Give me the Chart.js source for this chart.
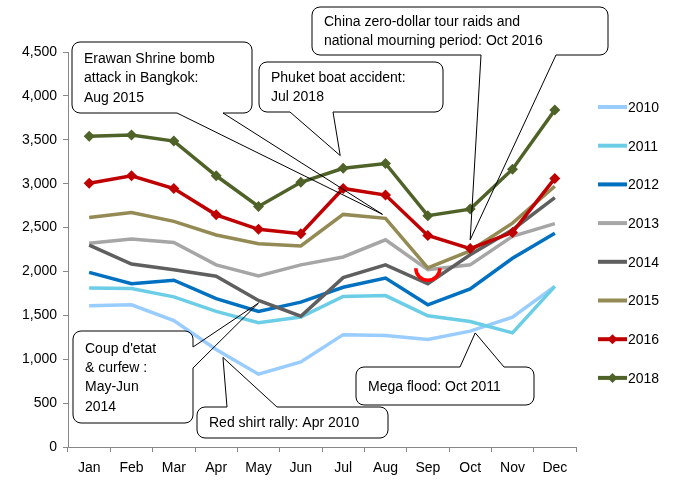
<!DOCTYPE html>
<html lang="en">
<head>
  <meta charset="UTF-8" />
  <title>Monthly arrivals by year</title>
  <script src="https://cdn.jsdelivr.net/npm/chart.js@4.4.0/dist/chart.umd.min.js"></script>
  <style>
    *{box-sizing:border-box;margin:0;padding:0}
    body{background:#fff;width:681px;height:480px;overflow:hidden}
    #chart{display:block}
  </style>
</head>
<body>
<canvas id="chart" width="681" height="480"></canvas>
<script>
/* data */
const months=['Jan','Feb','Mar','Apr','May','Jun','Jul','Aug','Sep','Oct','Nov','Dec'];
const years=['2010','2011','2012','2013','2014','2015','2016','2018'];
const y2010=[1610,1620,1440,1110,830,970,1280,1270,1225,1320,1480,1830];
const y2011=[1810,1805,1710,1545,1415,1480,1715,1725,1495,1430,1300,1830];
const y2012=[1990,1860,1900,1690,1545,1650,1820,1925,1620,1800,2150,2435];
const y2013=[2320,2370,2330,2075,1950,2075,2165,2360,2020,2075,2400,2545];
const y2014=[2300,2085,2020,1945,1670,1490,1930,2075,1860,2190,2475,2840];
const y2015=[2615,2670,2570,2415,2315,2290,2650,2605,2040,2235,2550,2970];
const y2016=[3005,3090,2945,2645,2480,2430,2945,2870,2410,2260,2445,3060];
const y2018=[3540,3555,3485,3090,2740,3015,3175,3230,2635,2710,3165,3840];
const yTicks=[0,500,1000,1500,2000,2500,3000,3500,4000,4500];

const series=[y2010,y2011,y2012,y2013,y2014,y2015,y2016,y2018];
const colors=['#99CCFF','#6BCDE6','#0070C0','#A6A6A6','#5F5F5F','#948A54','#C00000','#4F6228'];
const markers=[false,false,false,false,false,false,true,true];

const FONT='"Liberation Sans", Arial, sans-serif';

/* callouts: box in px, tail tip in data coords (month index, value) */
const callouts=[
  {lines:['Erawan Shrine bomb','attack in Bangkok:','Aug 2015'],box:[72,42,180,71],side:'bottom',a:177,b:223,tip:[6.93,2650]},
  {lines:['Phuket boat accident:','Jul 2018'],box:[259,62,184,50],side:'bottom',a:290,b:333,tip:[5.93,3320]},
  {lines:['China zero-dollar tour raids and','national mourning period: Oct 2016'],box:[312,7,296,48],side:'bottom',a:481,b:556,tip:[9,2360]},
  {lines:['Coup d\'etat','& curfew :','May-Jun','2014'],box:[73,331,120,92],side:'right',a:347,b:368,tip:[4,1640]},
  {lines:['Red shirt rally: Apr 2010'],box:[197,407,191,31],side:'top',a:227,b:277,tip:[3.16,1020]},
  {lines:['Mega flood: Oct 2011'],box:[356,367,178,38],side:'top',a:460,b:504,tip:[9.12,1300]}
];

function calloutPath(ctx,c,tx,ty){
  const [x,y,w,h]=c.box,r=8;
  ctx.beginPath();
  ctx.moveTo(x+r,y);
  if(c.side==='top'){ctx.lineTo(c.a,y);ctx.lineTo(tx,ty);ctx.lineTo(c.b,y);}
  ctx.arcTo(x+w,y,x+w,y+r,r);
  if(c.side==='right'){ctx.lineTo(x+w,c.a);ctx.lineTo(tx,ty);ctx.lineTo(x+w,c.b);}
  ctx.arcTo(x+w,y+h,x+w-r,y+h,r);
  if(c.side==='bottom'){ctx.lineTo(c.b,y+h);ctx.lineTo(tx,ty);ctx.lineTo(c.a,y+h);}
  ctx.arcTo(x,y+h,x,y+h-r,r);
  ctx.arcTo(x,y,x+r,y,r);
  ctx.closePath();
}

const overlay={
  id:'overlay',
  afterDatasetsDraw(chart){
    const ctx=chart.ctx,xs=chart.scales.x,ys=chart.scales.y;
    ctx.save();
    /* red highlight arc at Sep */
    ctx.strokeStyle='#FF0000';ctx.lineWidth=3.5;
    ctx.beginPath();
    ctx.arc(xs.getPixelForValue(8),ys.getPixelForValue(2035),12,0,Math.PI);
    ctx.stroke();
    /* callouts */
    ctx.strokeStyle='#000';ctx.lineWidth=1;
    ctx.font='14px '+FONT;ctx.fillStyle='#000';ctx.textBaseline='middle';ctx.textAlign='left';
    callouts.forEach(c=>{
      const tx=xs.getPixelForValue(c.tip[0]),ty=ys.getPixelForValue(c.tip[1]);
      calloutPath(ctx,c,tx,ty);
      ctx.stroke();
      const lh=19.2;
      c.lines.forEach((t,i)=>ctx.fillText(t,c.box[0]+12,c.box[1]+c.box[3]/2+(i-(c.lines.length-1)/2)*lh+1));
    });
    /* legend */
    years.forEach((yr,i)=>{
      const ly=107+i*38.7;
      ctx.strokeStyle=colors[i];ctx.lineWidth=4;
      ctx.beginPath();ctx.moveTo(598,ly);ctx.lineTo(627,ly);ctx.stroke();
      if(markers[i]){
        ctx.fillStyle=colors[i];ctx.beginPath();
        ctx.moveTo(612.5,ly-5);ctx.lineTo(617.5,ly);ctx.lineTo(612.5,ly+5);ctx.lineTo(607.5,ly);ctx.closePath();ctx.fill();
      }
      ctx.fillStyle='#000';ctx.fillText(yr,628,ly+1);
    });
    ctx.restore();
  }
};

new Chart('chart',{
  type:'line',
  data:{labels:months,datasets:series.map((d,i)=>({
    label:years[i],data:d,borderColor:colors[i],backgroundColor:colors[i],
    borderWidth:3.5,tension:0,order:series.length-i,
    pointStyle:'rectRot',pointRadius:markers[i]?5.5:0,pointBorderWidth:0,pointHoverRadius:markers[i]?5.5:0
  }))},
  options:{
    responsive:false,animation:false,devicePixelRatio:1,
    layout:{padding:{top:52,right:105,left:0,bottom:0}},
    plugins:{legend:{display:false},tooltip:{enabled:false}},
    scales:{
      x:{offset:true,
        grid:{offset:true,drawOnChartArea:false,drawTicks:true,tickLength:5,color:'#888'},
        border:{color:'#888'},
        ticks:{color:'#000',font:{size:14,family:FONT},padding:8,maxRotation:0},
        afterFit(s){s.height=33}},
      y:{min:0,max:4500,afterBuildTicks(s){s.ticks=yTicks.map(v=>({value:v}))},
        grid:{drawOnChartArea:false,drawTicks:true,tickLength:5,color:'#888'},
        border:{color:'#888'},
        ticks:{color:'#000',font:{size:14,family:FONT},padding:6,callback:v=>v.toLocaleString('en-US')},
        afterFit(s){s.width=68}}
    }
  },
  plugins:[overlay]
});
</script>
</body>
</html>
